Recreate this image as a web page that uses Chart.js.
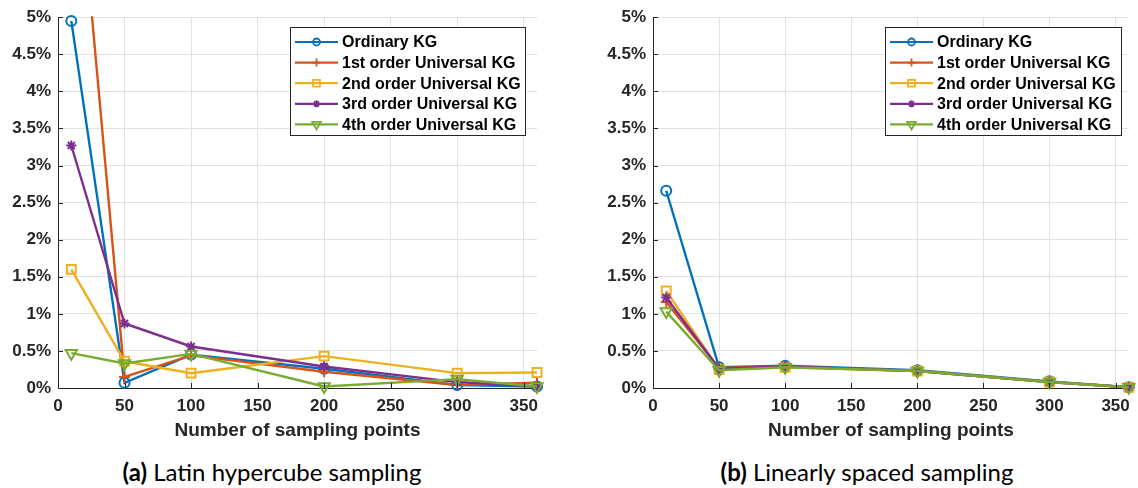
<!DOCTYPE html>
<html><head><meta charset="utf-8">
<script src="https://cdn.jsdelivr.net/npm/chart.js@4.4.0/dist/chart.umd.min.js"></script>
<style>
html,body{margin:0;padding:0;background:#fff;width:1138px;height:488px;overflow:hidden;}
#cA{position:absolute;left:0;top:0;}
#cB{position:absolute;left:600px;top:0;}
.cap{position:absolute;top:458px;font-family:Lato,"Open Sans",sans-serif;font-size:24px;color:#000;white-space:nowrap;transform:translateX(-50%);line-height:28px;}
.cap b{font-weight:bold;}
</style></head><body>
<canvas id="cA" width="560" height="445"></canvas>
<canvas id="cB" width="538" height="445"></canvas>
<div class="cap" style="left:272px"><b>(a)</b> Latin hypercube sampling</div>
<div class="cap" style="left:867px"><b>(b)</b> Linearly spaced sampling</div>
<script>
// ---------- data ----------
const xPoints = [10, 50, 100, 200, 300, 360];
const seriesNames = ['Ordinary KG', '1st order Universal KG', '2nd order Universal KG', '3rd order Universal KG', '4th order Universal KG'];
const xTickValues = [0, 50, 100, 150, 200, 250, 300, 350];
const yTickValues = [0, 0.5, 1, 1.5, 2, 2.5, 3, 3.5, 4, 4.5, 5];
const xTitle = 'Number of sampling points';

// (a) Latin hypercube sampling, error in %
const lhsOrdinary = [4.95, 0.07, 0.45, 0.26, 0.04, 0.02];
const lhsUK1      = [8.1, 0.15, 0.44, 0.22, 0.04, 0.07];
const lhsUK2      = [1.6, 0.36, 0.20, 0.43, 0.20, 0.21];
const lhsUK3      = [3.27, 0.87, 0.56, 0.29, 0.08, 0.02];
const lhsUK4      = [0.47, 0.33, 0.46, 0.02, 0.12, 0.02];

// (b) Linearly spaced sampling, error in %
const linOrdinary = [2.66, 0.28, 0.30, 0.24, 0.09, 0.01];
const linUK1      = [1.16, 0.27, 0.29, 0.23, 0.08, 0.01];
const linUK2      = [1.31, 0.25, 0.28, 0.23, 0.08, 0.01];
const linUK3      = [1.22, 0.26, 0.29, 0.23, 0.08, 0.01];
const linUK4      = [1.03, 0.24, 0.28, 0.23, 0.08, 0.01];

// ---------- styles ----------
const colors = ['#0072BD', '#D95319', '#EDB120', '#7E2F8E', '#77AC30'];
const pStyles = ['circle', 'cross', 'rect', 'star', 'triangle'];
const pRot = [0, 0, 0, 0, 180];
const pRad = [5, 5.5, 6.3, 5, 6.5];
const axisColor = '#262626';

function makeDatasets(arrs) {
  return arrs.map((vals, i) => ({
    label: seriesNames[i],
    data: xPoints.map((x, j) => ({x: x, y: vals[j]})),
    borderColor: colors[i],
    backgroundColor: 'rgba(0,0,0,0)',
    borderWidth: 2.4,
    pointStyle: pStyles[i],
    pointRotation: pRot[i],
    pointRadius: pRad[i],
    pointBorderWidth: 2,
    pointBorderColor: colors[i],
    pointBackgroundColor: i === 3 ? colors[i] : 'rgba(0,0,0,0)',
    tension: 0,
    clip: (arrs[i].some(v => v > 5)) ? 1 : 10
  })).reverse();
}

function drawMarker(ctx, i, x, y) {
  ctx.save();
  ctx.strokeStyle = colors[i];
  ctx.fillStyle = i === 3 ? colors[i] : 'rgba(0,0,0,0)';
  ctx.lineWidth = 1.8;
  const H = Chart.helpers;
  if (H && H.drawPoint) {
    H.drawPoint(ctx, {pointStyle: pStyles[i], rotation: pRot[i], radius: pRad[i] - 1.5, borderWidth: 1.8}, x, y);
  }
  ctx.restore();
}

const legendPlugin = {
  id: 'boxLegend',
  afterDraw(chart, args, opts) {
    const ctx = chart.ctx;
    ctx.save();
    ctx.fillStyle = '#fff';
    ctx.fillRect(opts.x, opts.y, opts.w, opts.h);
    ctx.strokeStyle = axisColor;
    ctx.lineWidth = 1;
    ctx.strokeRect(opts.x + 0.5, opts.y + 0.5, opts.w, opts.h);
    ctx.font = 'bold 16px "Liberation Sans", Arial, sans-serif';
    ctx.textBaseline = 'middle';
    ctx.fillStyle = '#000';
    seriesNames.forEach((name, i) => {
      const ry = opts.y + 15 + i * 20.6;
      ctx.strokeStyle = colors[i];
      ctx.lineWidth = 2.2;
      ctx.beginPath();
      ctx.moveTo(opts.x + 5, ry);
      ctx.lineTo(opts.x + 48, ry);
      ctx.stroke();
      drawMarker(ctx, i, opts.x + 26.5, ry);
      ctx.fillStyle = '#000';
      ctx.fillText(name, opts.x + 52, ry + 1);
    });
    ctx.restore();
  }
};

const innerTicksPlugin = {
  id: 'innerTicks',
  afterDatasetsDraw(chart) {
    const ctx = chart.ctx;
    const xs = chart.scales.x, ys = chart.scales.y;
    const a = chart.chartArea;
    ctx.save();
    ctx.strokeStyle = axisColor;
    ctx.lineWidth = 1;
    ctx.beginPath();
    xTickValues.forEach(v => {
      const px = Math.round(xs.getPixelForValue(v)) + 0.5;
      ctx.moveTo(px, a.bottom);
      ctx.lineTo(px, a.bottom - 5);
    });
    yTickValues.forEach(v => {
      const py = Math.round(ys.getPixelForValue(v)) + 0.5;
      ctx.moveTo(a.left, py);
      ctx.lineTo(a.left + 5, py);
    });
    ctx.stroke();
    ctx.restore();
  }
};

function makeChart(id, arrs, yWidth, padRight, legendOpts) {
  return new Chart(document.getElementById(id), {
    type: 'line',
    data: {datasets: makeDatasets(arrs)},
    plugins: [innerTicksPlugin, legendPlugin],
    options: {
      responsive: false,
      animation: false,
      devicePixelRatio: 1,
      layout: {padding: {top: 15, right: padRight, left: 0, bottom: 0}},
      plugins: {
        legend: {display: false},
        tooltip: {enabled: false},
        boxLegend: legendOpts
      },
      scales: {
        x: {
          type: 'linear',
          min: 0, max: 360,
          afterBuildTicks: s => { s.ticks = xTickValues.map(v => ({value: v})); },
          afterFit: s => { s.height = 57; },
          grid: {color: '#e2e2e2', lineWidth: 1, drawTicks: false},
          border: {color: axisColor, width: 1},
          ticks: {color: axisColor, padding: 8, font: {family: '"Liberation Sans", Arial, sans-serif', size: 17, weight: 'bold'}, maxRotation: 0},
          title: {display: true, text: xTitle, color: axisColor, padding: {top: 0, bottom: 3}, font: {family: '"Liberation Sans", Arial, sans-serif', size: 19, weight: 'bold'}}
        },
        y: {
          type: 'linear',
          min: 0, max: 5,
          afterBuildTicks: s => { s.ticks = yTickValues.map(v => ({value: v})); },
          afterFit: s => { s.width = yWidth; },
          grid: {color: '#e2e2e2', lineWidth: 1, drawTicks: false},
          border: {color: axisColor, width: 1},
          ticks: {color: axisColor, padding: 7, callback: v => v + '%', font: {family: '"Liberation Sans", Arial, sans-serif', size: 17, weight: 'bold'}}
        }
      }
    }
  });
}

makeChart('cA', [lhsOrdinary, lhsUK1, lhsUK2, lhsUK3, lhsUK4], 58, 23, {x: 290, y: 27, w: 235, h: 108});
makeChart('cB', [linOrdinary, linUK1, linUK2, linUK3, linUK4], 53, 8, {x: 285, y: 27, w: 236, h: 108});
</script>
</body></html>
